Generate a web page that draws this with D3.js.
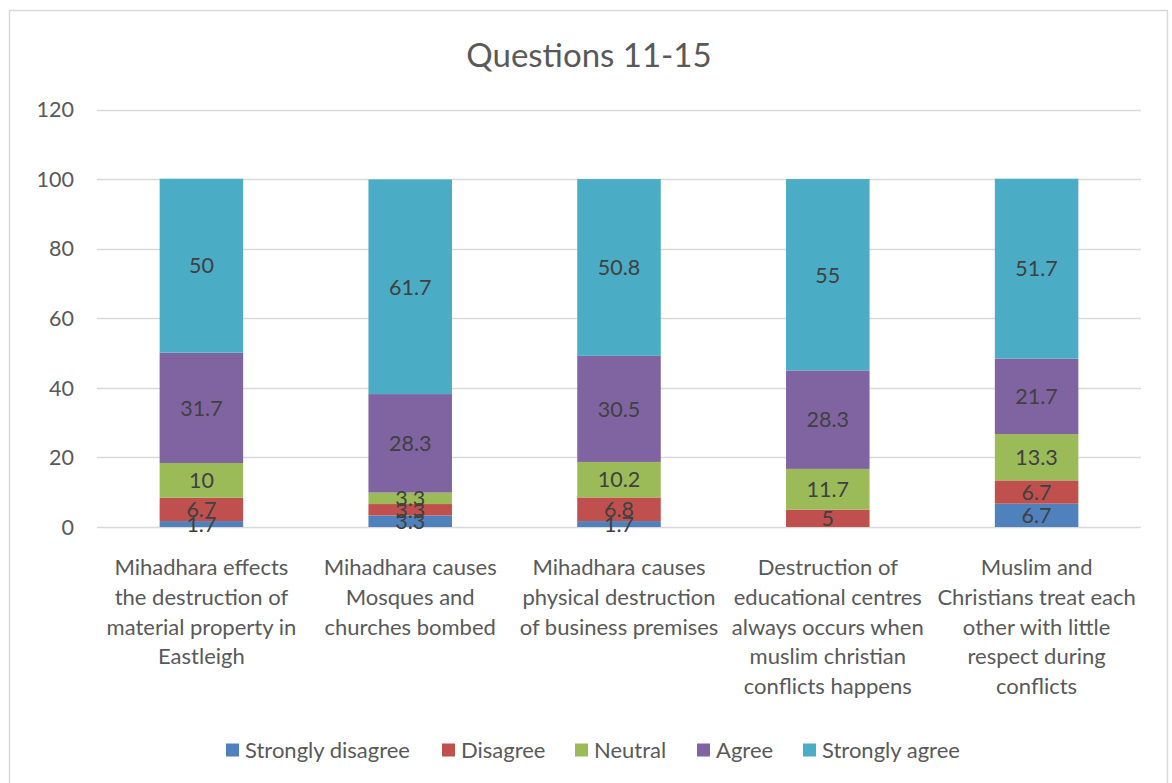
<!DOCTYPE html>
<html><head><meta charset="utf-8">
<script src="https://cdn.jsdelivr.net/npm/d3@7"></script>
<style>body{margin:0;background:#fff}svg{display:block}text{font-family:Lato,"Open Sans",sans-serif}</style>
</head><body><svg id="c" width="1172" height="783"></svg>
<script>
const categories = [
  ["Mihadhara effects","the destruction of","material property in","Eastleigh"],
  ["Mihadhara causes","Mosques and","churches bombed"],
  ["Mihadhara causes","physical destruction","of business premises"],
  ["Destruction of","educational centres","always occurs when","muslim christian","conflicts happens"],
  ["Muslim and","Christians treat each","other with little","respect during","conflicts"]
];
const seriesNames = ["Strongly disagree","Disagree","Neutral","Agree","Strongly agree"];
const stronglyDisagree = [1.7, 3.3, 1.7, 0, 6.7];
const disagree = [6.7, 3.3, 6.8, 5, 6.7];
const neutral = [10, 3.3, 10.2, 11.7, 13.3];
const agree = [31.7, 28.3, 30.5, 28.3, 21.7];
const stronglyAgree = [50, 61.7, 50.8, 55, 51.7];
const yTicks = [0,20,40,60,80,100,120];
const colors = ["#4F81BD","#C0504D","#9BBB59","#8064A2","#4BACC6"];

const seriesVals = [stronglyDisagree, disagree, neutral, agree, stronglyAgree];
const svg = d3.select("#c");
svg.append("rect").attr("x",9.5).attr("y",10.5).attr("width",1158).attr("height",790)
  .attr("fill","#fff").attr("stroke","#d9d9d9").attr("stroke-width",1.5);

svg.append("text").attr("x",589).attr("y",67).attr("text-anchor","middle")
  .attr("font-size",33).attr("fill","#595959").text("Questions 11-15");

const L=97,R=1141,T=109.5,B=527;
const x = d3.scaleBand().domain(d3.range(categories.length)).range([L,R]).paddingInner(0.6).paddingOuter(0.3);
const y = d3.scaleLinear().domain([0,120]).range([B,T]);

svg.append("g").selectAll("line").data(yTicks).join("line")
  .attr("x1",L).attr("x2",R).attr("y1",d=>Math.round(y(d))+0.5).attr("y2",d=>Math.round(y(d))+0.5)
  .attr("stroke","#d9d9d9").attr("stroke-width",1.3);
svg.append("g").selectAll("text").data(yTicks).join("text")
  .attr("x",74).attr("y",d=>y(d)).attr("dy","0.36em").attr("text-anchor","end")
  .attr("font-size",21.5).attr("fill","#595959").text(d=>d);

const rows = categories.map((c,i)=>{const o={i}; seriesNames.forEach((s,k)=>o[s]=seriesVals[k][i]); return o;});
const stack = d3.stack().keys(seriesNames)(rows);

const g = svg.append("g");
stack.forEach((layer,k)=>{
  g.append("g").selectAll("rect").data(layer).join("rect")
    .attr("x",d=>x(d.data.i)).attr("width",x.bandwidth())
    .attr("y",d=>y(d[1])).attr("height",d=>y(d[0])-y(d[1]))
    .attr("fill",colors[k]);
});
stack.forEach((layer,k)=>{
  g.append("g").selectAll("text").data(layer.filter(d=>d[1]-d[0]>0)).join("text")
    .attr("x",d=>x(d.data.i)+x.bandwidth()/2).attr("y",d=>y((d[0]+d[1])/2)).attr("dy","0.36em")
    .attr("text-anchor","middle").attr("font-size",21.5).attr("fill","#404040")
    .text(d=>d.data[layer.key]);
});

const cl = svg.append("g");
categories.forEach((lines,i)=>{
  const t = cl.append("text").attr("text-anchor","middle").attr("font-size",22).attr("fill","#595959");
  lines.forEach((ln,j)=>t.append("tspan").attr("x",x(i)+x.bandwidth()/2).attr("y",575+j*29.8).text(ln));
});

const legX = [226,442,575,697,803];
const lg = svg.append("g");
seriesNames.forEach((s,k)=>{
  lg.append("rect").attr("x",legX[k]).attr("y",743.5).attr("width",13).attr("height",13).attr("fill",colors[k]);
  lg.append("text").attr("x",legX[k]+19).attr("y",750).attr("dy","0.36em").attr("font-size",22).attr("fill","#595959").text(s);
});
</script></body></html>
